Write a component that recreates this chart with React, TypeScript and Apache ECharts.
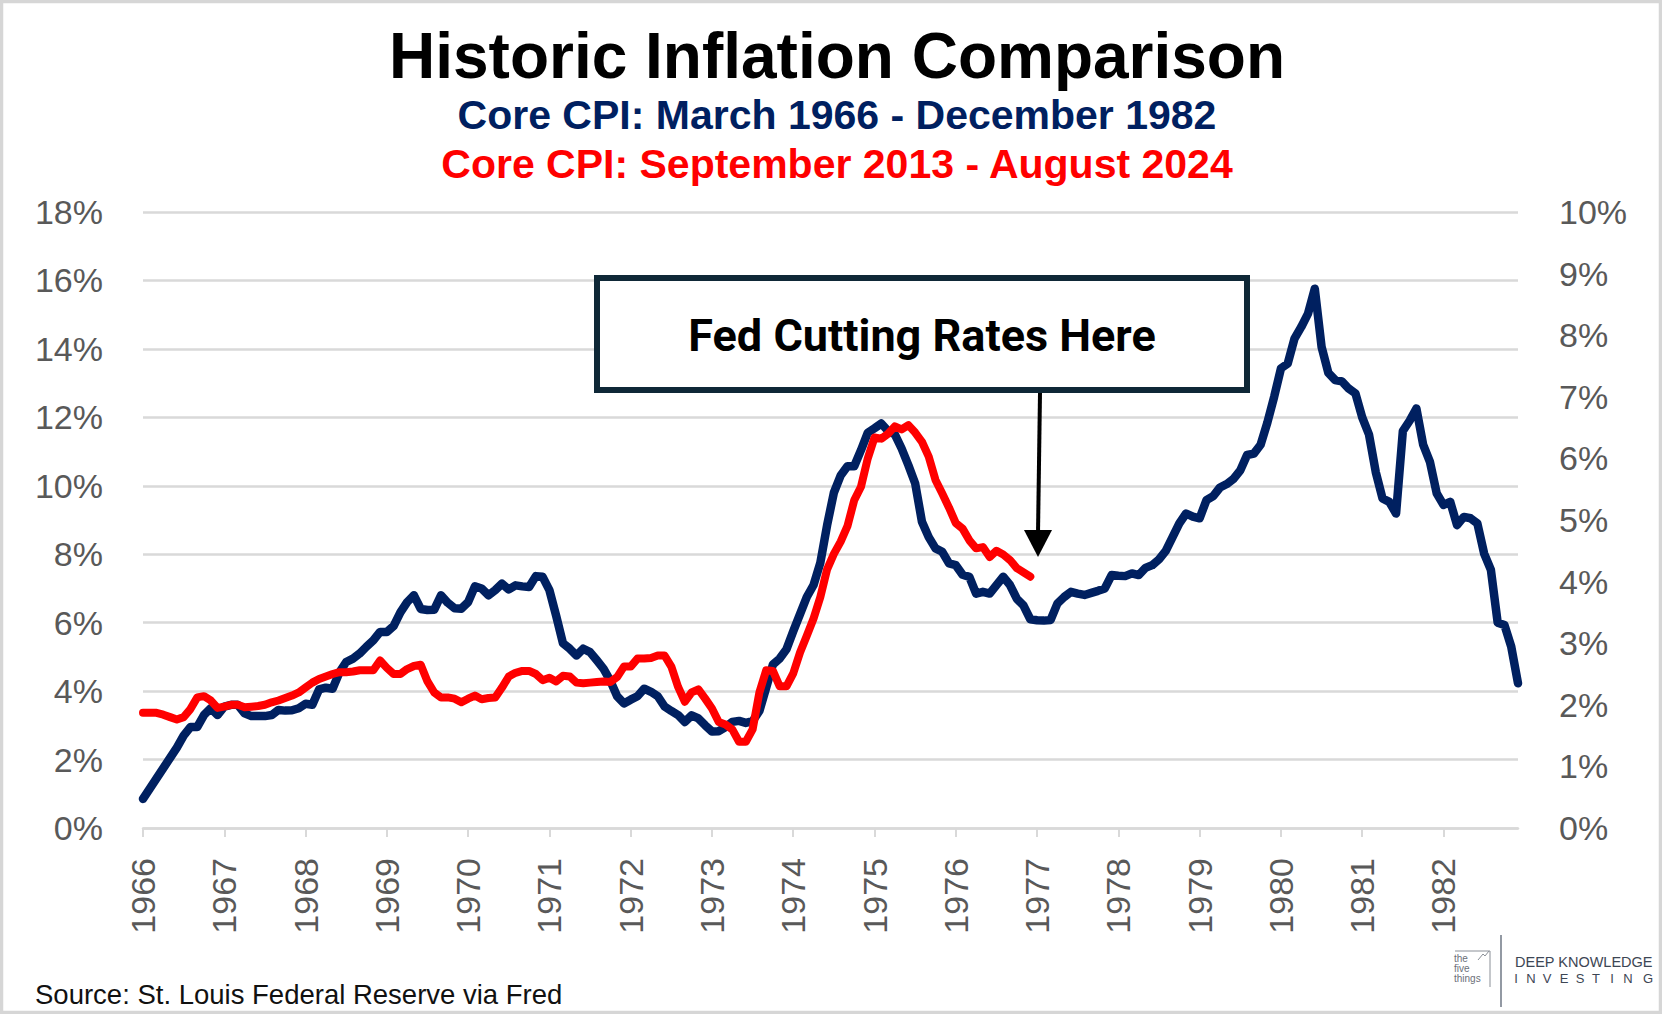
import React, { useEffect, useRef } from "react";
import * as echarts from "echarts";

// Core CPI, Jan 1966 - Dec 1982 (left axis, %)
const BLUE_CORE_CPI_1966_1982 = [
  0.85, 1.15, 1.45, 1.75, 2.05, 2.35, 2.7, 2.95, 2.95, 3.3, 3.5, 3.3,
  3.55, 3.6, 3.6, 3.35, 3.27, 3.27, 3.27, 3.3, 3.45, 3.43, 3.44, 3.5,
  3.63, 3.6, 4.05, 4.1, 4.07, 4.55, 4.85, 4.95, 5.1, 5.3, 5.48, 5.73,
  5.73, 5.9, 6.3, 6.6, 6.8, 6.4, 6.37, 6.38, 6.8, 6.58, 6.42, 6.41,
  6.6, 7.06, 7.0, 6.8, 6.95, 7.14, 6.97, 7.09, 7.06, 7.04, 7.36, 7.34,
  6.95, 6.2, 5.4, 5.24, 5.04, 5.24, 5.14, 4.9, 4.65, 4.3, 3.85, 3.64,
  3.75, 3.85, 4.07, 3.98, 3.85, 3.55, 3.42, 3.3, 3.1, 3.29, 3.2, 3.0,
  2.82, 2.83, 2.95, 3.1, 3.13, 3.07, 3.12, 3.42, 4.1, 4.78, 4.95, 5.22,
  5.75, 6.25, 6.75, 7.1, 7.75, 8.85, 9.8, 10.3, 10.57, 10.57, 11.04, 11.55,
  11.68, 11.82, 11.6, 11.5, 11.09, 10.6, 10.07, 8.95, 8.5, 8.17, 8.07, 7.73,
  7.68, 7.4, 7.34, 6.85, 6.9, 6.85, 7.1, 7.34, 7.1, 6.7, 6.5, 6.1,
  6.07, 6.06, 6.08, 6.56, 6.75, 6.9, 6.85, 6.81, 6.87, 6.93, 7.0, 7.39,
  7.37, 7.36, 7.44, 7.39, 7.6, 7.68, 7.85, 8.1, 8.5, 8.9, 9.19, 9.1,
  9.05, 9.58, 9.7, 9.95, 10.05, 10.2, 10.45, 10.9, 10.94, 11.2, 11.85, 12.6,
  13.43, 13.57, 14.3, 14.64, 15.03, 15.76, 14.06, 13.3, 13.09, 13.05, 12.84, 12.7,
  12.0, 11.5, 10.4, 9.63, 9.53, 9.19, 11.6, 11.9, 12.26, 11.2, 10.7, 9.78,
  9.44, 9.53, 8.85, 9.09, 9.05, 8.9, 8.02, 7.54, 6.0, 5.93, 5.3, 4.23,
];

// Core CPI, Sep 2013 - Aug 2024 (right axis, %)
const RED_CORE_CPI_2013_2024 = [
  1.87, 1.87, 1.87, 1.84, 1.8, 1.76, 1.8, 1.93, 2.12, 2.14, 2.07, 1.95,
  1.97, 2.0, 2.0, 1.96, 1.97, 1.98, 2.0, 2.04, 2.07, 2.11, 2.15, 2.2,
  2.28, 2.36, 2.42, 2.46, 2.5, 2.53, 2.53, 2.54, 2.56, 2.56, 2.56, 2.72,
  2.6, 2.5, 2.5, 2.58, 2.63, 2.65, 2.38, 2.2, 2.12, 2.12, 2.1, 2.04,
  2.1, 2.15, 2.09, 2.11, 2.12, 2.28, 2.46, 2.52, 2.55, 2.55, 2.5, 2.4,
  2.44, 2.38, 2.47, 2.46, 2.36, 2.35, 2.36, 2.37, 2.38, 2.37, 2.45, 2.62,
  2.62, 2.75, 2.75, 2.76, 2.8, 2.8, 2.62, 2.29, 2.05, 2.2, 2.25, 2.1,
  1.94, 1.72, 1.68, 1.6, 1.4, 1.4, 1.6, 2.2, 2.56, 2.55, 2.3, 2.3,
  2.51, 2.85, 3.12, 3.4, 3.75, 4.2, 4.45, 4.65, 4.9, 5.32, 5.54, 6.0,
  6.34, 6.32, 6.4, 6.52, 6.47, 6.54, 6.42, 6.27, 6.03, 5.65, 5.43, 5.2,
  4.95, 4.86, 4.67, 4.54, 4.56, 4.4, 4.5, 4.44, 4.35, 4.22, 4.15, 4.08,
];

const YEAR_LABELS = [
  "1966", "1967", "1968", "1969", "1970", "1971", "1972", "1973", "1974",
  "1975", "1976", "1977", "1978", "1979", "1980", "1981", "1982",
];
const MONTHS = ["Jan", "Feb", "Mar", "Apr", "May", "Jun", "Jul", "Aug", "Sep", "Oct", "Nov", "Dec"];

const LEFT_AXIS = { min: 0, max: 18, interval: 2 };
const RIGHT_AXIS = { min: 0, max: 10, interval: 1 };

const TITLE = "Historic Inflation Comparison";
const SUBTITLE_BLUE = "Core CPI: March 1966 - December 1982";
const SUBTITLE_RED = "Core CPI: September 2013 - August 2024";
const ANNOTATION = "Fed Cutting Rates Here";
const SOURCE = "Source: St. Louis Federal Reserve via Fred";

const NAVY = "#002060";
const RED = "#FF0000";
const GRID = "#d9d9d9";
const LABEL = "#595959";
const ARIAL = "'Liberation Sans', Arial, sans-serif";

const CATEGORIES = YEAR_LABELS.flatMap((y) => MONTHS.map((m) => `${m} ${y}`));

export default function App() {
  const ref = useRef<HTMLDivElement>(null);

  useEffect(() => {
    if (!ref.current) return;
    const chart = echarts.init(ref.current, null, { renderer: "svg" });
    const investing = "INVESTING".split("");
    const investingX = [1516, 1531, 1547, 1564, 1580, 1596, 1612, 1628, 1648];

    chart.setOption({
      animation: false,
      backgroundColor: "#ffffff",
      grid: { left: 143, right: 144, top: 212, bottom: 186, containLabel: false },
      xAxis: {
        type: "category",
        data: CATEGORIES,
        boundaryGap: false,
        axisLine: { show: true, lineStyle: { color: GRID, width: 2.5 } },
        axisTick: { show: true, interval: 11, length: 9, lineStyle: { color: GRID, width: 2 } },
        axisLabel: {
          interval: 11,
          rotate: 90,
          margin: 30,
          fontSize: 34,
          color: LABEL,
          fontFamily: ARIAL,
          formatter: (v: string) => v.slice(-4),
        },
        splitLine: { show: false },
      },
      yAxis: [
        {
          type: "value",
          position: "left",
          min: LEFT_AXIS.min,
          max: LEFT_AXIS.max,
          interval: LEFT_AXIS.interval,
          axisLine: { show: false },
          axisTick: { show: false },
          axisLabel: { formatter: "{value}%", fontSize: 34, color: LABEL, fontFamily: ARIAL, margin: 40 },
          splitLine: { show: true, lineStyle: { color: GRID, width: 2.5 } },
        },
        {
          type: "value",
          position: "right",
          min: RIGHT_AXIS.min,
          max: RIGHT_AXIS.max,
          interval: RIGHT_AXIS.interval,
          axisLine: { show: false },
          axisTick: { show: false },
          axisLabel: { formatter: "{value}%", fontSize: 34, color: LABEL, fontFamily: ARIAL, margin: 41 },
          splitLine: { show: false },
        },
      ],
      series: [
        {
          name: SUBTITLE_BLUE,
          type: "line",
          yAxisIndex: 0,
          data: BLUE_CORE_CPI_1966_1982,
          symbol: "none",
          lineStyle: { color: NAVY, width: 8.5, cap: "round", join: "round" },
          z: 3,
        },
        {
          name: SUBTITLE_RED,
          type: "line",
          yAxisIndex: 1,
          data: RED_CORE_CPI_2013_2024,
          symbol: "none",
          lineStyle: { color: RED, width: 8, cap: "round", join: "round" },
          z: 4,
        },
      ],
      graphic: [
        {
          type: "rect",
          z: 0,
          silent: true,
          shape: { x: 1.5, y: 1.5, width: 1659, height: 1011 },
          style: { fill: "none", stroke: "#d6d6d6", lineWidth: 3.5 },
        },
        {
          type: "text",
          x: 837,
          y: 56,
          style: { text: TITLE, fontSize: 64, fontWeight: "bold", fontFamily: ARIAL, fill: "#000", align: "center", verticalAlign: "middle" },
        },
        {
          type: "text",
          x: 837,
          y: 115,
          style: { text: SUBTITLE_BLUE, fontSize: 41, fontWeight: "bold", fontFamily: ARIAL, fill: NAVY, align: "center", verticalAlign: "middle" },
        },
        {
          type: "text",
          x: 837,
          y: 164,
          style: { text: SUBTITLE_RED, fontSize: 41, fontWeight: "bold", fontFamily: ARIAL, fill: RED, align: "center", verticalAlign: "middle" },
        },
        {
          type: "rect",
          z: 20,
          shape: { x: 597, y: 278, width: 650, height: 112 },
          style: { fill: "#ffffff", stroke: "#0f2837", lineWidth: 6 },
        },
        {
          type: "text",
          z: 21,
          x: 922,
          y: 335,
          style: { text: ANNOTATION, fontSize: 45, fontWeight: "bold", fontFamily: "Roboto, 'Liberation Sans', sans-serif", fill: "#000", align: "center", verticalAlign: "middle" },
        },
        {
          type: "line",
          z: 21,
          shape: { x1: 1040, y1: 393, x2: 1038, y2: 534 },
          style: { stroke: "#000", lineWidth: 4 },
        },
        {
          type: "polygon",
          z: 21,
          shape: { points: [[1024, 530], [1052, 530], [1038, 557]] },
          style: { fill: "#000" },
        },
        {
          type: "text",
          x: 35,
          y: 994,
          style: { text: SOURCE, fontSize: 27.5, fontFamily: ARIAL, fill: "#111", align: "left", verticalAlign: "middle" },
        },
        // logo
        {
          type: "polyline",
          shape: { points: [[1455, 951], [1490, 951], [1490, 987]] },
          style: { stroke: "#8a8f97", lineWidth: 1, fill: "none" },
        },
        {
          type: "polyline",
          shape: { points: [[1478, 960], [1483, 954], [1485, 956], [1489, 951]] },
          style: { stroke: "#8a8f97", lineWidth: 1, fill: "none" },
        },
        { type: "text", x: 1454, y: 958, style: { text: "the", fontSize: 10, fontFamily: ARIAL, fill: "#6b7079", align: "left", verticalAlign: "middle" } },
        { type: "text", x: 1454, y: 968, style: { text: "five", fontSize: 10, fontFamily: ARIAL, fill: "#6b7079", align: "left", verticalAlign: "middle" } },
        { type: "text", x: 1454, y: 978, style: { text: "things", fontSize: 10, fontFamily: ARIAL, fill: "#6b7079", align: "left", verticalAlign: "middle" } },
        {
          type: "line",
          shape: { x1: 1501, y1: 935, x2: 1501, y2: 1007 },
          style: { stroke: "#4a5566", lineWidth: 1.2 },
        },
        { type: "text", x: 1515, y: 962, style: { text: "DEEP KNOWLEDGE", fontSize: 14.5, fontFamily: ARIAL, fill: "#3d4654", align: "left", verticalAlign: "middle" } },
        ...investing.map((ch, k) => ({
          type: "text",
          x: investingX[k],
          y: 978,
          style: { text: ch, fontSize: 13, fontFamily: ARIAL, fill: "#3d4654", align: "center", verticalAlign: "middle" },
        })),
      ],
    });
    return () => chart.dispose();
  }, []);

  return (
    <div
      ref={ref}
      style={{ position: "fixed", left: 0, top: 0, width: 1662, height: 1014, background: "#fff" }}
    />
  );
}
